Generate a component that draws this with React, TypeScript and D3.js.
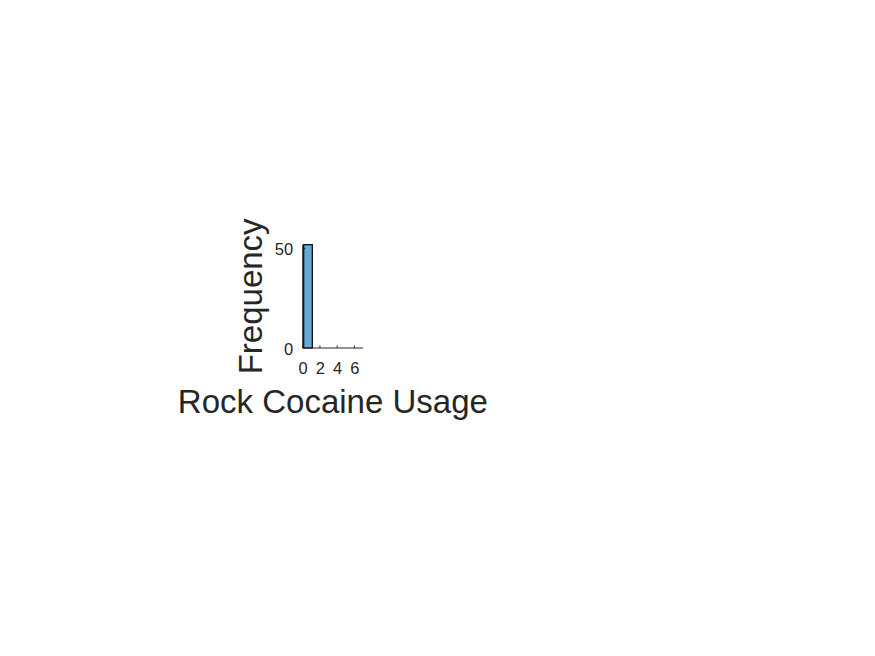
import React, { useRef, useEffect } from "react";
import * as d3 from "d3";

// histogram bins (edges) and counts
const binEdges = [0, 1, 2, 3, 4, 5, 6, 7];
const binCounts = [52, 0, 0, 0, 0, 0, 0];
const xTicks = [0, 2, 4, 6];
const yTicks = [0, 50];

const App = () => {
  const ref = useRef<SVGSVGElement>(null);
  const width = 875;
  const height = 656;

  useEffect(() => {
    const svg = d3.select(ref.current);
    svg.selectAll("*").remove();

    const left = 302.7;
    const right = 363;
    const top = 244.7;
    const bottom = 348;
    const ink = "#262626";
    const font = "Arial, 'Liberation Sans', Helvetica, sans-serif";

    const x = d3.scaleLinear().domain([0, 7]).range([left, right]);
    const y = d3.scaleLinear().domain([0, 52]).range([bottom, top]);

    const bins = binCounts.map((c, i) => ({ x0: binEdges[i], x1: binEdges[i + 1], count: c }));

    svg
      .append("g")
      .selectAll("rect")
      .data(bins.filter((d) => d.count > 0))
      .enter()
      .append("rect")
      .attr("x", (d) => x(d.x0) + 1)
      .attr("y", (d) => y(d.count))
      .attr("width", (d) => x(d.x1) - x(d.x0))
      .attr("height", (d) => y(0) - y(d.count))
      .attr("fill", "#66aad7")
      .attr("stroke", "#000")
      .attr("stroke-width", 1.2);

    // axes lines
    svg.append("line")
      .attr("x1", left).attr("x2", left).attr("y1", top).attr("y2", bottom)
      .attr("stroke", ink);
    svg.append("line")
      .attr("x1", left).attr("x2", right).attr("y1", bottom).attr("y2", bottom)
      .attr("stroke", ink);

    // x ticks (inside)
    svg.append("g")
      .selectAll("line")
      .data(xTicks)
      .enter()
      .append("line")
      .attr("x1", (d) => x(d)).attr("x2", (d) => x(d))
      .attr("y1", bottom).attr("y2", bottom - 2.5)
      .attr("stroke", ink);

    svg.append("g")
      .selectAll("text")
      .data(xTicks)
      .enter()
      .append("text")
      .attr("x", (d) => x(d) + 0.5)
      .attr("y", 373.5)
      .attr("text-anchor", "middle")
      .attr("font-family", font)
      .attr("font-size", 16.5)
      .attr("fill", ink)
      .text((d) => d);

    // y ticks
    svg.append("g")
      .selectAll("line")
      .data(yTicks)
      .enter()
      .append("line")
      .attr("x1", left).attr("x2", left + 2.5)
      .attr("y1", (d) => y(d)).attr("y2", (d) => y(d))
      .attr("stroke", ink);

    svg.append("g")
      .selectAll("text")
      .data(yTicks)
      .enter()
      .append("text")
      .attr("x", left - 9.5)
      .attr("y", (d) => y(d) + 6.5)
      .attr("text-anchor", "end")
      .attr("font-family", font)
      .attr("font-size", 16.5)
      .attr("fill", ink)
      .text((d) => d);

    // axis labels
    svg.append("text")
      .attr("x", (left + right) / 2)
      .attr("y", 413)
      .attr("text-anchor", "middle")
      .attr("font-family", font)
      .attr("font-size", 33)
      .attr("fill", ink)
      .text("Rock Cocaine Usage");

    svg.append("text")
      .attr("transform", `translate(262,${(top + bottom) / 2}) rotate(-90)`)
      .attr("text-anchor", "middle")
      .attr("font-family", font)
      .attr("font-size", 33)
      .attr("fill", ink)
      .text("Frequency");
  }, []);

  return (
    <svg
      ref={ref}
      width={width}
      height={height}
      style={{ position: "absolute", left: 0, top: 0, background: "#fff" }}
    ></svg>
  );
};

export default App;
